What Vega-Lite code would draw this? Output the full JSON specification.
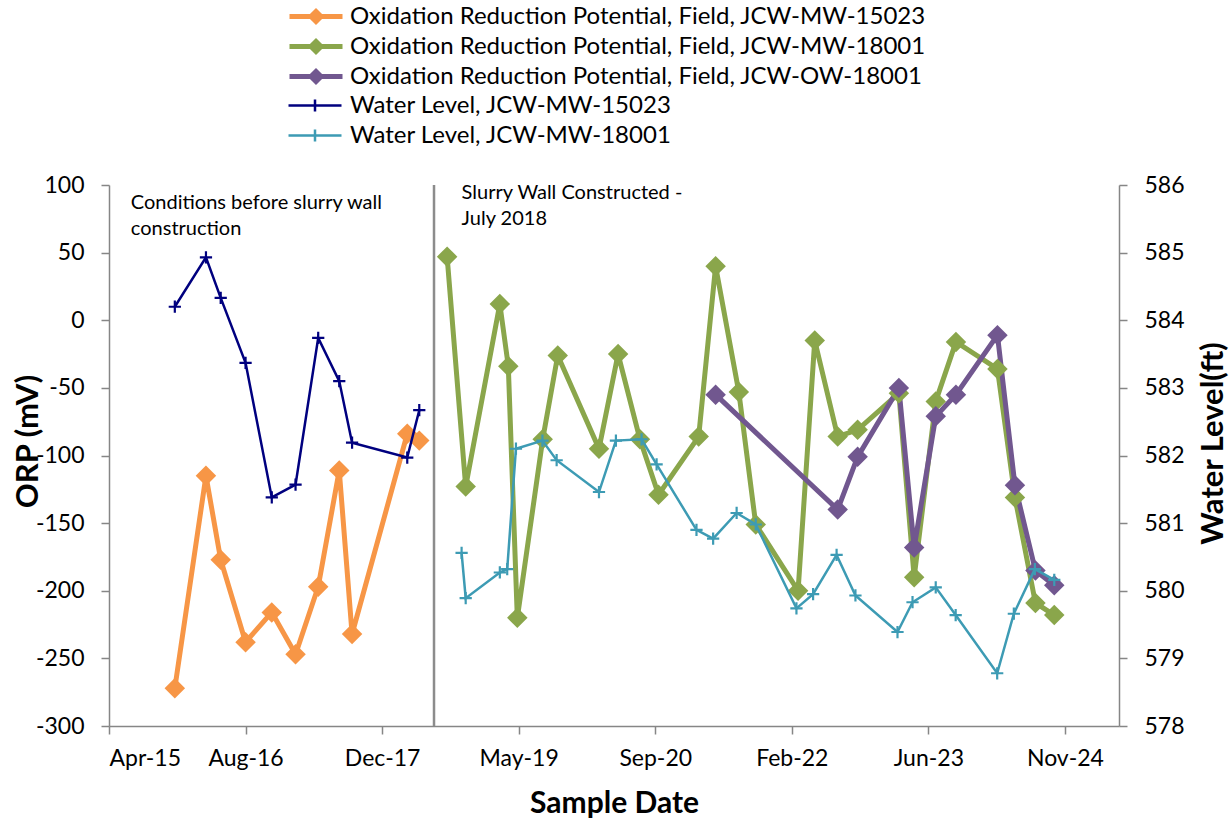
{
  "$schema": "https://vega.github.io/schema/vega-lite/v6.json",
  "width": 1010,
  "height": 541,
  "autosize": {"type": "none"},
  "padding": {"left": 109, "top": 185, "right": 111, "bottom": 94},
  "background": "white",
  "config": {
    "view": {"stroke": null},
    "font": "Lato",
    "axis": {
      "grid": false,
      "domainColor": "#868686",
      "domainWidth": 1.5,
      "tickColor": "#868686",
      "tickWidth": 1.5,
      "tickSize": 8,
      "labelColor": "#000000",
      "labelFont": "Lato",
      "labelFontSize": 23,
      "titleColor": "#000000",
      "titleFont": "Lato",
      "titleFontWeight": "bold",
      "titleFontSize": 30
    }
  },
  "data": {
    "values": [
      {"s": "Oxidation Reduction Potential, Field, JCW-MW-15023", "k": "ORP", "d": "2015-12-03", "v": -272},
      {"s": "Oxidation Reduction Potential, Field, JCW-MW-15023", "k": "ORP", "d": "2016-03-26", "v": -115},
      {"s": "Oxidation Reduction Potential, Field, JCW-MW-15023", "k": "ORP", "d": "2016-05-19", "v": -177},
      {"s": "Oxidation Reduction Potential, Field, JCW-MW-15023", "k": "ORP", "d": "2016-08-18", "v": -238},
      {"s": "Oxidation Reduction Potential, Field, JCW-MW-15023", "k": "ORP", "d": "2016-11-22", "v": -216},
      {"s": "Oxidation Reduction Potential, Field, JCW-MW-15023", "k": "ORP", "d": "2017-02-17", "v": -247},
      {"s": "Oxidation Reduction Potential, Field, JCW-MW-15023", "k": "ORP", "d": "2017-05-11", "v": -197},
      {"s": "Oxidation Reduction Potential, Field, JCW-MW-15023", "k": "ORP", "d": "2017-07-27", "v": -111},
      {"s": "Oxidation Reduction Potential, Field, JCW-MW-15023", "k": "ORP", "d": "2017-09-12", "v": -232},
      {"s": "Oxidation Reduction Potential, Field, JCW-MW-15023", "k": "ORP", "d": "2018-04-02", "v": -84},
      {"s": "Oxidation Reduction Potential, Field, JCW-MW-15023", "k": "ORP", "d": "2018-05-16", "v": -89},

      {"s": "Oxidation Reduction Potential, Field, JCW-MW-18001", "k": "ORP", "d": "2018-08-26", "v": 47},
      {"s": "Oxidation Reduction Potential, Field, JCW-MW-18001", "k": "ORP", "d": "2018-11-02", "v": -123},
      {"s": "Oxidation Reduction Potential, Field, JCW-MW-18001", "k": "ORP", "d": "2019-03-07", "v": 12},
      {"s": "Oxidation Reduction Potential, Field, JCW-MW-18001", "k": "ORP", "d": "2019-04-07", "v": -34},
      {"s": "Oxidation Reduction Potential, Field, JCW-MW-18001", "k": "ORP", "d": "2019-05-10", "v": -220},
      {"s": "Oxidation Reduction Potential, Field, JCW-MW-18001", "k": "ORP", "d": "2019-08-11", "v": -88},
      {"s": "Oxidation Reduction Potential, Field, JCW-MW-18001", "k": "ORP", "d": "2019-10-05", "v": -26},
      {"s": "Oxidation Reduction Potential, Field, JCW-MW-18001", "k": "ORP", "d": "2020-03-04", "v": -95},
      {"s": "Oxidation Reduction Potential, Field, JCW-MW-18001", "k": "ORP", "d": "2020-05-13", "v": -25},
      {"s": "Oxidation Reduction Potential, Field, JCW-MW-18001", "k": "ORP", "d": "2020-08-01", "v": -88},
      {"s": "Oxidation Reduction Potential, Field, JCW-MW-18001", "k": "ORP", "d": "2020-10-08", "v": -129},
      {"s": "Oxidation Reduction Potential, Field, JCW-MW-18001", "k": "ORP", "d": "2021-03-04", "v": -86},
      {"s": "Oxidation Reduction Potential, Field, JCW-MW-18001", "k": "ORP", "d": "2021-05-05", "v": 40},
      {"s": "Oxidation Reduction Potential, Field, JCW-MW-18001", "k": "ORP", "d": "2021-07-29", "v": -53},
      {"s": "Oxidation Reduction Potential, Field, JCW-MW-18001", "k": "ORP", "d": "2021-09-29", "v": -151},
      {"s": "Oxidation Reduction Potential, Field, JCW-MW-18001", "k": "ORP", "d": "2022-03-03", "v": -200},
      {"s": "Oxidation Reduction Potential, Field, JCW-MW-18001", "k": "ORP", "d": "2022-05-03", "v": -15},
      {"s": "Oxidation Reduction Potential, Field, JCW-MW-18001", "k": "ORP", "d": "2022-07-26", "v": -86},
      {"s": "Oxidation Reduction Potential, Field, JCW-MW-18001", "k": "ORP", "d": "2022-10-07", "v": -81},
      {"s": "Oxidation Reduction Potential, Field, JCW-MW-18001", "k": "ORP", "d": "2023-03-07", "v": -54},
      {"s": "Oxidation Reduction Potential, Field, JCW-MW-18001", "k": "ORP", "d": "2023-05-02", "v": -190},
      {"s": "Oxidation Reduction Potential, Field, JCW-MW-18001", "k": "ORP", "d": "2023-07-20", "v": -60},
      {"s": "Oxidation Reduction Potential, Field, JCW-MW-18001", "k": "ORP", "d": "2023-10-02", "v": -16},
      {"s": "Oxidation Reduction Potential, Field, JCW-MW-18001", "k": "ORP", "d": "2024-03-02", "v": -36},
      {"s": "Oxidation Reduction Potential, Field, JCW-MW-18001", "k": "ORP", "d": "2024-05-05", "v": -131},
      {"s": "Oxidation Reduction Potential, Field, JCW-MW-18001", "k": "ORP", "d": "2024-07-19", "v": -209},
      {"s": "Oxidation Reduction Potential, Field, JCW-MW-18001", "k": "ORP", "d": "2024-09-26", "v": -218},

      {"s": "Oxidation Reduction Potential, Field, JCW-OW-18001", "k": "ORP", "d": "2021-05-05", "v": -55},
      {"s": "Oxidation Reduction Potential, Field, JCW-OW-18001", "k": "ORP", "d": "2022-07-26", "v": -140},
      {"s": "Oxidation Reduction Potential, Field, JCW-OW-18001", "k": "ORP", "d": "2022-10-07", "v": -101},
      {"s": "Oxidation Reduction Potential, Field, JCW-OW-18001", "k": "ORP", "d": "2023-03-07", "v": -50},
      {"s": "Oxidation Reduction Potential, Field, JCW-OW-18001", "k": "ORP", "d": "2023-05-02", "v": -168},
      {"s": "Oxidation Reduction Potential, Field, JCW-OW-18001", "k": "ORP", "d": "2023-07-20", "v": -71},
      {"s": "Oxidation Reduction Potential, Field, JCW-OW-18001", "k": "ORP", "d": "2023-10-02", "v": -55},
      {"s": "Oxidation Reduction Potential, Field, JCW-OW-18001", "k": "ORP", "d": "2024-03-02", "v": -11},
      {"s": "Oxidation Reduction Potential, Field, JCW-OW-18001", "k": "ORP", "d": "2024-05-05", "v": -122},
      {"s": "Oxidation Reduction Potential, Field, JCW-OW-18001", "k": "ORP", "d": "2024-07-19", "v": -185},
      {"s": "Oxidation Reduction Potential, Field, JCW-OW-18001", "k": "ORP", "d": "2024-09-26", "v": -196},

      {"s": "Water Level, JCW-MW-15023", "k": "WL", "d": "2015-12-03", "v": 584.20},
      {"s": "Water Level, JCW-MW-15023", "k": "WL", "d": "2016-03-26", "v": 584.93},
      {"s": "Water Level, JCW-MW-15023", "k": "WL", "d": "2016-05-19", "v": 584.33},
      {"s": "Water Level, JCW-MW-15023", "k": "WL", "d": "2016-08-18", "v": 583.37},
      {"s": "Water Level, JCW-MW-15023", "k": "WL", "d": "2016-11-22", "v": 581.38},
      {"s": "Water Level, JCW-MW-15023", "k": "WL", "d": "2017-02-17", "v": 581.57},
      {"s": "Water Level, JCW-MW-15023", "k": "WL", "d": "2017-05-11", "v": 583.74},
      {"s": "Water Level, JCW-MW-15023", "k": "WL", "d": "2017-07-27", "v": 583.10},
      {"s": "Water Level, JCW-MW-15023", "k": "WL", "d": "2017-09-12", "v": 582.19},
      {"s": "Water Level, JCW-MW-15023", "k": "WL", "d": "2018-04-02", "v": 581.97},
      {"s": "Water Level, JCW-MW-15023", "k": "WL", "d": "2018-05-16", "v": 582.67},

      {"s": "Water Level, JCW-MW-18001", "k": "WL", "d": "2018-10-18", "v": 580.56},
      {"s": "Water Level, JCW-MW-18001", "k": "WL", "d": "2018-11-02", "v": 579.89},
      {"s": "Water Level, JCW-MW-18001", "k": "WL", "d": "2019-03-07", "v": 580.27},
      {"s": "Water Level, JCW-MW-18001", "k": "WL", "d": "2019-04-03", "v": 580.32},
      {"s": "Water Level, JCW-MW-18001", "k": "WL", "d": "2019-05-05", "v": 582.10},
      {"s": "Water Level, JCW-MW-18001", "k": "WL", "d": "2019-08-10", "v": 582.22},
      {"s": "Water Level, JCW-MW-18001", "k": "WL", "d": "2019-10-01", "v": 581.93},
      {"s": "Water Level, JCW-MW-18001", "k": "WL", "d": "2020-03-04", "v": 581.46},
      {"s": "Water Level, JCW-MW-18001", "k": "WL", "d": "2020-05-05", "v": 582.22},
      {"s": "Water Level, JCW-MW-18001", "k": "WL", "d": "2020-08-07", "v": 582.24},
      {"s": "Water Level, JCW-MW-18001", "k": "WL", "d": "2020-10-01", "v": 581.87},
      {"s": "Water Level, JCW-MW-18001", "k": "WL", "d": "2021-02-24", "v": 580.90},
      {"s": "Water Level, JCW-MW-18001", "k": "WL", "d": "2021-04-26", "v": 580.77},
      {"s": "Water Level, JCW-MW-18001", "k": "WL", "d": "2021-07-21", "v": 581.15},
      {"s": "Water Level, JCW-MW-18001", "k": "WL", "d": "2021-09-29", "v": 580.98},
      {"s": "Water Level, JCW-MW-18001", "k": "WL", "d": "2022-02-25", "v": 579.74},
      {"s": "Water Level, JCW-MW-18001", "k": "WL", "d": "2022-04-27", "v": 579.95},
      {"s": "Water Level, JCW-MW-18001", "k": "WL", "d": "2022-07-22", "v": 580.53},
      {"s": "Water Level, JCW-MW-18001", "k": "WL", "d": "2022-09-29", "v": 579.93},
      {"s": "Water Level, JCW-MW-18001", "k": "WL", "d": "2023-03-02", "v": 579.39},
      {"s": "Water Level, JCW-MW-18001", "k": "WL", "d": "2023-04-26", "v": 579.83},
      {"s": "Water Level, JCW-MW-18001", "k": "WL", "d": "2023-07-20", "v": 580.05},
      {"s": "Water Level, JCW-MW-18001", "k": "WL", "d": "2023-10-01", "v": 579.64},
      {"s": "Water Level, JCW-MW-18001", "k": "WL", "d": "2024-03-01", "v": 578.78},
      {"s": "Water Level, JCW-MW-18001", "k": "WL", "d": "2024-05-01", "v": 579.66},
      {"s": "Water Level, JCW-MW-18001", "k": "WL", "d": "2024-07-17", "v": 580.32},
      {"s": "Water Level, JCW-MW-18001", "k": "WL", "d": "2024-09-26", "v": 580.16}
    ]
  },
  "layer": [
    {
      "layer": [
        {
          "data": {"values": [{"a": 1}]},
          "mark": {"type": "rule", "color": "#8c8c8c", "strokeWidth": 2.5},
          "encoding": {
            "x": {"datum": {"year": 2018, "month": 7, "date": 9, "utc": true}, "type": "temporal"}
          }
        },
        {
          "data": {"values": [{"a": 1}]},
          "mark": {"type": "text", "align": "left", "baseline": "alphabetic", "font": "Lato", "fontSize": 20, "lineHeight": 26, "color": "#000000",
                   "text": ["Conditions before slurry wall", "construction"]},
          "encoding": {
            "x": {"datum": {"year": 2015, "month": 6, "date": 25, "utc": true}, "type": "temporal"},
            "y": {"datum": 82, "type": "quantitative"}
          }
        },
        {
          "data": {"values": [{"a": 1}]},
          "mark": {"type": "text", "align": "left", "baseline": "alphabetic", "font": "Lato", "fontSize": 20, "lineHeight": 26, "color": "#000000",
                   "text": ["Slurry Wall Constructed -", "July 2018"]},
          "encoding": {
            "x": {"datum": {"year": 2018, "month": 10, "date": 18, "utc": true}, "type": "temporal"},
            "y": {"datum": 90, "type": "quantitative"}
          }
        },
        {
          "transform": [{"filter": "datum.k === 'ORP'"}],
          "mark": {"type": "line", "strokeWidth": 5},
          "encoding": {
            "x": {
              "field": "d", "type": "temporal",
              "scale": {"type": "utc", "domain": [{"year": 2015, "month": 4, "date": 6, "utc": true}, {"year": 2025, "month": 5, "date": 21, "utc": true}]},
              "axis": {
                "title": "Sample Date",
                "format": "%b-%y",
                "labelPadding": 13,
                "titleX": 505,
                "titleY": 86,
                "titleAlign": "center",
                "titleBaseline": "alphabetic",
                "values": [
                  {"year": 2015, "month": 4, "date": 6, "utc": true},
                  {"year": 2016, "month": 8, "date": 18, "utc": true},
                  {"year": 2017, "month": 12, "date": 31, "utc": true},
                  {"year": 2019, "month": 5, "date": 15, "utc": true},
                  {"year": 2020, "month": 9, "date": 26, "utc": true},
                  {"year": 2022, "month": 2, "date": 8, "utc": true},
                  {"year": 2023, "month": 6, "date": 23, "utc": true},
                  {"year": 2024, "month": 11, "date": 4, "utc": true}
                ]
              }
            },
            "y": {
              "field": "v", "type": "quantitative",
              "scale": {"domain": [-300, 100], "nice": false, "zero": false},
              "axis": {
                "title": "ORP (mV)",
                "titleFontSize": 31,
                "values": [-300, -250, -200, -150, -100, -50, 0, 50, 100],
                "labelExpr": "'' + datum.value",
                "labelPadding": 17,
                "titleAngle": 270,
                "titleX": -72,
                "titleY": 256,
                "titleAlign": "center",
                "titleBaseline": "alphabetic"
              }
            },
            "color": {
              "field": "s", "type": "nominal",
              "scale": {
                "domain": [
                  "Oxidation Reduction Potential, Field, JCW-MW-15023",
                  "Oxidation Reduction Potential, Field, JCW-MW-18001",
                  "Oxidation Reduction Potential, Field, JCW-OW-18001"
                ],
                "range": ["#F79646", "#8AA64B", "#71578F"]
              },
              "legend": {
                "orient": "none",
                "legendX": 178,
                "legendY": -182,
                "direction": "vertical",
                "title": null,
                "padding": 0,
                "labelFont": "Lato",
                "labelFontSize": 24,
                "labelColor": "#000000",
                "labelLimit": 1000,
                "labelOffset": 5,
                "symbolSize": 2809,
                "symbolType": "M-1,0L1,0M-0.19,0L0,-0.19L0.19,0L0,0.19Z",
                "symbolStrokeWidth": 5,
                "clipHeight": 27,
                "rowPadding": 3
              }
            }
          }
        },
        {
          "transform": [{"filter": "datum.s === 'Oxidation Reduction Potential, Field, JCW-MW-15023'"}],
          "mark": {"type": "point", "shape": "diamond", "filled": true, "size": 420, "opacity": 1, "color": "#F79646"},
          "encoding": {
            "x": {"field": "d", "type": "temporal"},
            "y": {"field": "v", "type": "quantitative"}
          }
        },
        {
          "transform": [{"filter": "datum.s === 'Oxidation Reduction Potential, Field, JCW-MW-18001'"}],
          "mark": {"type": "point", "shape": "diamond", "filled": true, "size": 420, "opacity": 1, "color": "#8AA64B"},
          "encoding": {
            "x": {"field": "d", "type": "temporal"},
            "y": {"field": "v", "type": "quantitative"}
          }
        },
        {
          "transform": [{"filter": "datum.s === 'Oxidation Reduction Potential, Field, JCW-OW-18001'"}],
          "mark": {"type": "point", "shape": "diamond", "filled": true, "size": 420, "opacity": 1, "color": "#71578F"},
          "encoding": {
            "x": {"field": "d", "type": "temporal"},
            "y": {"field": "v", "type": "quantitative"}
          }
        }
      ]
    },
    {
      "layer": [
        {
          "transform": [{"filter": "datum.k === 'WL'"}],
          "mark": {"type": "line", "strokeWidth": 2.5},
          "encoding": {
            "x": {"field": "d", "type": "temporal"},
            "y": {
              "field": "v", "type": "quantitative",
              "scale": {"domain": [578, 586], "nice": false, "zero": false},
              "axis": {
                "orient": "right",
                "title": "Water Level(ft)",
                "titleFontSize": 31,
                "values": [578, 579, 580, 581, 582, 583, 584, 585, 586],
                "format": "d",
                "labelPadding": 17,
                "titleAngle": 270,
                "titleX": 103,
                "titleY": 258,
                "titleAlign": "center",
                "titleBaseline": "alphabetic"
              }
            },
            "stroke": {
              "field": "s", "type": "nominal",
              "scale": {
                "domain": ["Water Level, JCW-MW-15023", "Water Level, JCW-MW-18001"],
                "range": ["#00007F", "#3D9BB4"]
              },
              "legend": {
                "orient": "none",
                "legendX": 178,
                "legendY": -93,
                "direction": "vertical",
                "title": null,
                "padding": 0,
                "labelFont": "Lato",
                "labelFontSize": 24,
                "labelColor": "#000000",
                "labelLimit": 1000,
                "labelOffset": 7,
                "symbolSize": 2809,
                "symbolType": "M-1,0L1,0M0,-0.23L0,0.23",
                "symbolStrokeWidth": 2.5,
                "clipHeight": 27,
                "rowPadding": 3
              }
            }
          }
        },
        {
          "transform": [{"filter": "datum.s === 'Water Level, JCW-MW-15023'"}],
          "mark": {"type": "point", "shape": "M-1,0L1,0M0,-1L0,1", "filled": false, "size": 150, "strokeWidth": 2.2, "opacity": 1, "color": "#00007F"},
          "encoding": {
            "x": {"field": "d", "type": "temporal"},
            "y": {"field": "v", "type": "quantitative"}
          }
        },
        {
          "transform": [{"filter": "datum.s === 'Water Level, JCW-MW-18001'"}],
          "mark": {"type": "point", "shape": "M-1,0L1,0M0,-1L0,1", "filled": false, "size": 150, "strokeWidth": 2.2, "opacity": 1, "color": "#3D9BB4"},
          "encoding": {
            "x": {"field": "d", "type": "temporal"},
            "y": {"field": "v", "type": "quantitative"}
          }
        }
      ]
    }
  ],
  "resolve": {"scale": {"y": "independent"}}
}
